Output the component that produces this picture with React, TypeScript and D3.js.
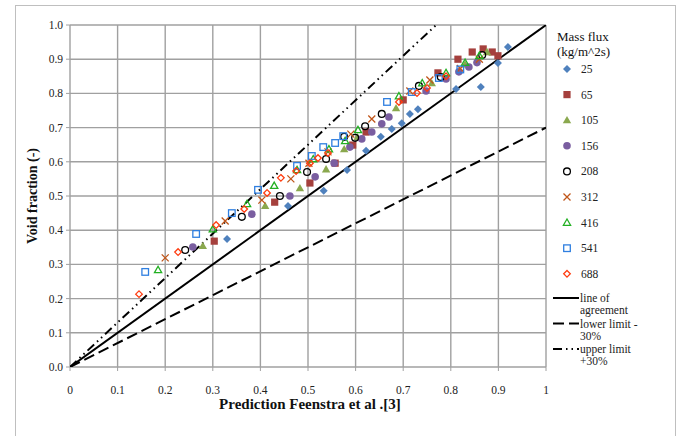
import React from 'react'
import * as d3 from 'd3'

type Pt = [number, number]

// mass flux series (kg/m^2s): [prediction, measured void fraction]
const g25: Pt[] = [[0.33, 0.374], [0.458, 0.471], [0.533, 0.515], [0.582, 0.576], [0.622, 0.632], [0.653, 0.673], [0.676, 0.696], [0.697, 0.713], [0.714, 0.74], [0.731, 0.754], [0.811, 0.813], [0.863, 0.819], [0.899, 0.889], [0.92, 0.936]]
const g65: Pt[] = [[0.303, 0.368], [0.43, 0.482], [0.504, 0.538], [0.557, 0.596], [0.594, 0.649], [0.622, 0.687], [0.7, 0.781], [0.773, 0.86], [0.815, 0.9], [0.845, 0.921], [0.868, 0.93], [0.887, 0.921], [0.899, 0.91]]
const g105: Pt[] = [[0.279, 0.354], [0.41, 0.471], [0.483, 0.523], [0.538, 0.578], [0.576, 0.637], [0.604, 0.672], [0.685, 0.757], [0.76, 0.83], [0.83, 0.885], [0.876, 0.921]]
const g156: Pt[] = [[0.258, 0.351], [0.382, 0.447], [0.462, 0.5], [0.515, 0.556], [0.555, 0.596], [0.588, 0.643], [0.613, 0.667], [0.634, 0.687], [0.655, 0.711], [0.67, 0.731], [0.748, 0.807], [0.79, 0.842], [0.817, 0.863], [0.838, 0.877], [0.855, 0.89]]
const g208: Pt[] = [[0.242, 0.342], [0.361, 0.439], [0.441, 0.5], [0.498, 0.57], [0.538, 0.608], [0.576, 0.673], [0.599, 0.67], [0.62, 0.704], [0.655, 0.74], [0.733, 0.822], [0.779, 0.848], [0.866, 0.912]]
const g312: Pt[] = [[0.2, 0.319], [0.326, 0.427], [0.403, 0.488], [0.464, 0.55], [0.502, 0.596], [0.542, 0.629], [0.59, 0.681], [0.634, 0.725], [0.714, 0.807], [0.756, 0.839], [0.82, 0.873], [0.86, 0.9]]
const g416: Pt[] = [[0.185, 0.284], [0.3, 0.403], [0.372, 0.477], [0.429, 0.53], [0.477, 0.576], [0.511, 0.608], [0.544, 0.637], [0.578, 0.661], [0.605, 0.693], [0.691, 0.792], [0.74, 0.83], [0.79, 0.86], [0.83, 0.89], [0.86, 0.91]]
const g541: Pt[] = [[0.158, 0.278], [0.265, 0.389], [0.34, 0.45], [0.395, 0.518], [0.477, 0.588], [0.508, 0.617], [0.532, 0.643], [0.557, 0.655], [0.574, 0.675], [0.666, 0.775], [0.718, 0.804], [0.775, 0.845], [0.82, 0.87]]
const g688: Pt[] = [[0.145, 0.213], [0.227, 0.336], [0.307, 0.415], [0.366, 0.462], [0.414, 0.509], [0.443, 0.553], [0.475, 0.573], [0.504, 0.596], [0.521, 0.611], [0.542, 0.626], [0.691, 0.775], [0.729, 0.801], [0.75, 0.816], [0.79, 0.85]]

const seriesNames = ['25', '65', '105', '156', '208', '312', '416', '541', '688']
const seriesData = [g25, g65, g105, g156, g208, g312, g416, g541, g688]
const seriesColors = ['#4f81bd', '#a5403d', '#8aa84e', '#7a5ea0', '#000000', '#c0561a', '#22b022', '#2f7fe0', '#ff3c10']
const seriesShapes = ['diamondF', 'squareF', 'triangleF', 'circleF', 'circleO', 'x', 'triangleO', 'squareO', 'diamondO']

const yTicks = [0, 0.1, 0.2, 0.3, 0.4, 0.5, 0.6, 0.7, 0.8, 0.9, 1.0]
const xTicks = [0, 0.1, 0.2, 0.3, 0.4, 0.5, 0.6, 0.7, 0.8, 0.9, 1]

// reference lines: slope of y = k * x
const refLines = [
  {name: ['line of', 'agreement'], k: 1, dash: ''},
  {name: ['lower limit  -', '30%'], k: 0.7, dash: '11,5'},
  {name: ['upper limit', '+30%'], k: 1.3, dash: '9,4,1.5,4,1.5,4'}
]

const Marker = ({shape, color, x, y}: {shape: string, color: string, x: number, y: number}) => {
  if (shape === 'x') {
    return <path d={`M${x - 3.5},${y - 3.5}L${x + 3.5},${y + 3.5}M${x - 3.5},${y + 3.5}L${x + 3.5},${y - 3.5}`} stroke={color} strokeWidth={1.3} fill="none"/>
  }
  const filled = shape.endsWith('F')
  const base = shape.slice(0, -1)
  const fill = filled ? color : 'none'
  const stroke = color
  const sw = filled ? 0 : 1.3
  if (base === 'diamond') {
    const r = filled ? 4 : 3.3
    return <path d={`M${x},${y - r}L${x + r},${y}L${x},${y + r}L${x - r},${y}Z`} fill={fill} stroke={stroke} strokeWidth={sw}/>
  }
  if (base === 'square') {
    const r = filled ? 3.6 : 3.3
    return <rect x={x - r} y={y - r} width={2 * r} height={2 * r} fill={fill} stroke={stroke} strokeWidth={sw}/>
  }
  if (base === 'triangle') {
    const r = filled ? 4.2 : 3.6
    return <path d={`M${x},${y - r}L${x + r},${y + r * 0.75}L${x - r},${y + r * 0.75}Z`} fill={fill} stroke={stroke} strokeWidth={sw}/>
  }
  const r = filled ? 3.8 : 3.4
  return <circle cx={x} cy={y} r={r} fill={fill} stroke={stroke} strokeWidth={sw}/>
}

const App = () => {
  const width = 682
  const height = 436
  const left = 70
  const right = 546
  const top = 25
  const bottom = 367

  const x = d3.scaleLinear().domain([0, 1]).range([left, right])
  const y = d3.scaleLinear().domain([0, 1]).range([bottom, top])
  const font = "'Liberation Serif', 'Times New Roman', serif"

  const grid = '#a0a0a0'

  return (
    <svg width={width} height={height} style={{position: 'absolute', left: 0, top: 0, background: 'white', fontFamily: font}}>
      <rect x={15.5} y={5.5} width={660} height={440} fill="white" stroke="#bfbfbf" strokeWidth={1}/>
      {/* grid */}
      {yTicks.map((t, i) => (
        <line key={'gy' + i} x1={left} x2={right} y1={y(t)} y2={y(t)} stroke={grid} strokeWidth={1.4}/>
      ))}
      {xTicks.map((t, i) => (
        <line key={'gx' + i} x1={x(t)} x2={x(t)} y1={top} y2={bottom} stroke={grid} strokeWidth={1.4}/>
      ))}
      {xTicks.map((t, i) => (
        <line key={'tx' + i} x1={x(t)} x2={x(t)} y1={bottom} y2={bottom + 4} stroke={grid} strokeWidth={1}/>
      ))}
      {yTicks.map((t, i) => (
        <line key={'ty' + i} x1={left - 4} x2={left} y1={y(t)} y2={y(t)} stroke={grid} strokeWidth={1}/>
      ))}
      {/* tick labels */}
      {yTicks.map((t, i) => (
        <text key={'ly' + i} x={left - 7} y={y(t) + 4} fontSize={11.5} textAnchor="end" fill="#222">{t.toFixed(1)}</text>
      ))}
      {xTicks.map((t, i) => (
        <text key={'lx' + i} x={x(t)} y={bottom + 27} fontSize={11.5} textAnchor="middle" fill="#222">{String(t)}</text>
      ))}
      <text x={(left + right) / 2 + 2} y={409} fontSize={15} fontWeight="bold" textAnchor="middle" fill="#111">Prediction Feenstra et al .[3]</text>
      <text transform={`translate(37,${(top + bottom) / 2}) rotate(-90)`} fontSize={14} fontWeight="bold" textAnchor="middle" fill="#111">Void fraction (-)</text>

      {/* reference lines */}
      <defs>
        <clipPath id="plotClip">
          <rect x={left} y={top} width={right - left} height={bottom - top}/>
        </clipPath>
      </defs>
      <g clipPath="url(#plotClip)">
        {refLines.map((l, i) => {
          const xEnd = Math.min(1, 1 / l.k)
          return <line key={'rl' + i} x1={x(0)} y1={y(0)} x2={x(xEnd)} y2={y(xEnd * l.k)} stroke="#000" strokeWidth={2} strokeDasharray={l.dash}/>
        })}
      </g>

      {/* points */}
      {seriesData.map((s, si) => (
        <g key={'s' + si}>
          {s.map((p, pi) => (
            <Marker key={pi} shape={seriesShapes[si]} color={seriesColors[si]} x={x(p[0])} y={y(p[1])}/>
          ))}
        </g>
      ))}

      {/* legend */}
      <text x={557} y={41} fontSize={13} fill="#111">Mass flux</text>
      <text x={557} y={56} fontSize={13} fill="#111">(kg/m^2s)</text>
      {seriesNames.map((n, i) => {
        const ly = 69 + i * 25.6
        return (
          <g key={'lg' + i}>
            <Marker shape={seriesShapes[i]} color={seriesColors[i]} x={567} y={ly}/>
            <text x={581} y={ly + 4} fontSize={11.5} fill="#222">{n}</text>
          </g>
        )
      })}
      {refLines.map((l, i) => {
        const ly = 298 + i * 25.5
        return (
          <g key={'lr' + i}>
            <line x1={553} x2={579} y1={ly} y2={ly} stroke="#000" strokeWidth={2} strokeDasharray={l.dash}/>
            <text x={580} y={ly + 4} fontSize={11.5} fill="#222">{l.name[0]}</text>
            <text x={580} y={ly + 16} fontSize={11.5} fill="#222">{l.name[1]}</text>
          </g>
        )
      })}
    </svg>
  )
}

export default App
